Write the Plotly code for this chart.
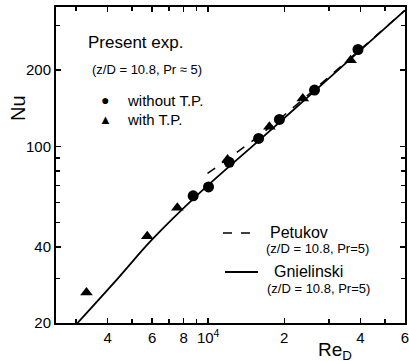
import plotly.graph_objects as go

# ---- data ----
re_without = [8720, 10030, 12110, 15830, 19130, 26340, 39130]
nu_without = [63.7, 69.1, 86.4, 107.4, 127.7, 166.8, 241.5]
re_with = [3300, 5740, 7550, 11930, 17460, 23670, 36600]
nu_with = [26.4, 44.1, 57.1, 88.7, 119.4, 154.6, 219]
gniel_re = [3040, 4440, 5980, 9210, 15940, 26340, 60000]
gniel_nu = [20, 30.4, 42.6, 65.1, 105.8, 165.3, 345]
petu_re = [9940, 15690, 22960, 60000]
petu_nu = [78.1, 109, 149.4, 345]

x_tickvals = [4000, 6000, 8000, 10000, 20000, 40000, 60000]
x_ticktext = ["4", "6", "8", "10<sup>4</sup>", "2", "4", "6"]
x_minor = [3000, 5000, 7000, 9000, 30000, 50000]
y_tickvals = [20, 40, 100, 200]
y_ticktext = ["20", "40", "100", "200"]
y_minor = [30, 50, 60, 70, 80, 90, 300]

FONT = "Liberation Sans, Arial, sans-serif"
W, H = 409, 361
L, R, T, B = 56, 4, 7, 38
PW, PH = W - L - R, H - T - B


def px(x):
    return (x - L) / PW


def py(y):
    return (H - B - y) / PH


fig = go.Figure()
fig.add_trace(go.Scatter(x=gniel_re, y=gniel_nu, mode="lines", line=dict(color="black", width=1.8, shape="spline"), showlegend=False))
fig.add_trace(go.Scatter(x=petu_re, y=petu_nu, mode="lines", line=dict(color="black", width=1.5, dash="dash", shape="spline"), showlegend=False))
fig.add_trace(go.Scatter(x=re_without, y=nu_without, mode="markers", marker=dict(symbol="circle", size=11, color="black"), showlegend=False))
fig.add_trace(go.Scatter(x=re_with, y=nu_with, mode="markers", marker=dict(symbol="triangle-up", size=11, color="black"), showlegend=False))

axis_common = dict(showline=True, linecolor="black", linewidth=2, mirror="ticks", ticks="inside",
                   ticklen=5, tickwidth=1.5, tickcolor="black", showgrid=False, zeroline=False,
                   automargin=False, ticklabeloverflow="allow",
                   tickfont=dict(family=FONT, size=15, color="black"))
fig.update_xaxes(type="log", range=[3.398, 4.7785], tickvals=x_tickvals, ticktext=x_ticktext,
                 minor=dict(tickvals=x_minor, ticks="inside", ticklen=4, tickcolor="black", tickwidth=1.5),
                 **axis_common)
fig.update_yaxes(type="log", range=[1.30103, 2.551], tickvals=y_tickvals, ticktext=y_ticktext,
                 minor=dict(tickvals=y_minor, ticks="inside", ticklen=4, tickcolor="black", tickwidth=1.5),
                 **axis_common)

ann = []


def text(x, y, s, size, xanchor="left", angle=0):
    ann.append(dict(x=px(x), y=py(y), xref="paper", yref="paper", text=s, showarrow=False,
                    xanchor=xanchor, yanchor="middle", textangle=angle,
                    font=dict(family=FONT, size=size, color="black")))


text(86, 42, "Present exp.", 17)
text(90, 70, "(z/D = 10.8, Pr \u2248 5)", 13)
text(105, 100, "\u25cf", 14, xanchor="center")
text(125, 100, "without T.P.", 15)
text(105, 119, "\u25b2", 13, xanchor="center")
text(125, 119, "with T.P.", 15)
text(268, 232, "Petukov", 16)
text(264, 248, "(z/D = 10.8, Pr=5)", 13)
text(272, 271, "Gnielinski", 16)
text(265, 288, "(z/D = 10.8, Pr=5)", 13)
text(18, 108, "Nu", 20, xanchor="center", angle=-90)
text(316, 351, "Re<sub>D</sub>", 19)

shapes = [
    dict(type="line", xref="paper", yref="paper", x0=px(223), x1=px(254), y0=py(233), y1=py(233),
         line=dict(color="black", width=1.5, dash="dash")),
    dict(type="line", xref="paper", yref="paper", x0=px(225), x1=px(258), y0=py(272), y1=py(272),
         line=dict(color="black", width=1.8)),
]

fig.update_layout(width=W, height=H, margin=dict(l=L, r=R, t=T, b=B, autoexpand=False), plot_bgcolor="white",
                  paper_bgcolor="white", annotations=ann, shapes=shapes, showlegend=False)
fig.write_html("out.html", config={"displayModeBar": False, "staticPlot": True},
               post_script="document.body.style.margin='0';document.body.style.overflow='hidden';")
